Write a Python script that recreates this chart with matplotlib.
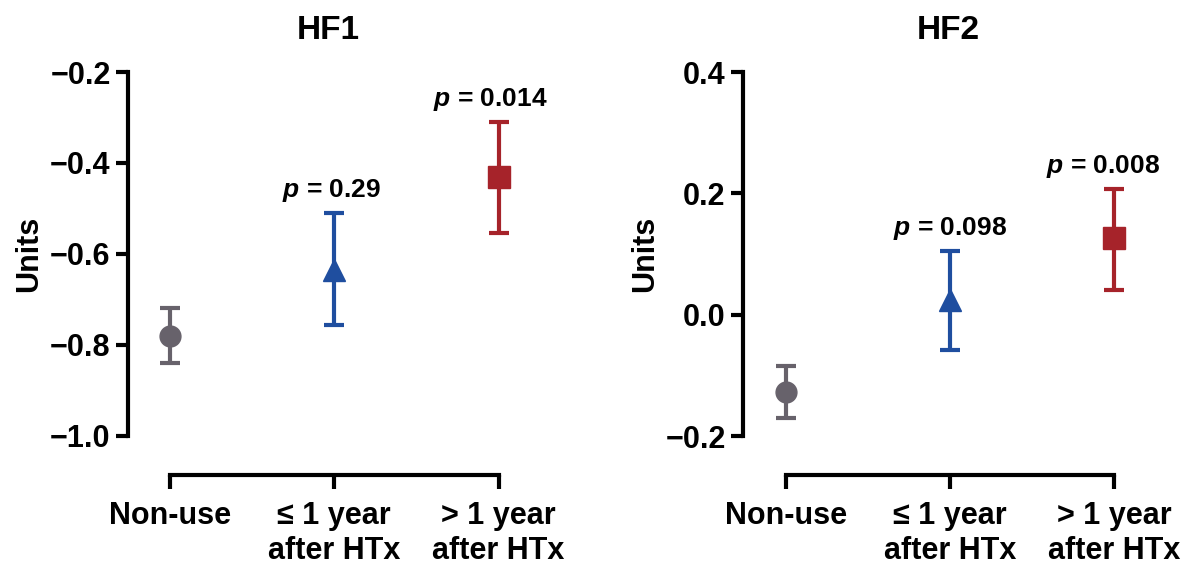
import numpy as np
import matplotlib
matplotlib.use("Agg")
import matplotlib.pyplot as plt

# Data
groups = ["Non-use", "\u2264 1 year\nafter HTx", "> 1 year\nafter HTx"]
colors = ["#67626b", "#1f4e9f", "#a6232a"]
markers = ["o", "^", "s"]

hf1_mean = [-0.780, -0.635, -0.431]
hf1_low = [-0.840, -0.756, -0.554]
hf1_high = [-0.719, -0.510, -0.310]
hf1_p = [None, "0.29", "0.014"]

hf2_mean = [-0.128, 0.025, 0.127]
hf2_low = [-0.171, -0.059, 0.041]
hf2_high = [-0.084, 0.105, 0.207]
hf2_p = [None, "0.098", "0.008"]

plt.rcParams["font.family"] = ["Liberation Sans", "DejaVu Sans"]
plt.rcParams["font.weight"] = "bold"
plt.rcParams["mathtext.fontset"] = "custom"
plt.rcParams["mathtext.it"] = "Liberation Sans:italic:bold"
plt.rcParams["mathtext.rm"] = "Liberation Sans:bold"

W, H = 1203, 571
fig = plt.figure(figsize=(W / 100, H / 100), dpi=100)
LW = 3.0


def panel(left_px, title, title_x, mean, low, high, pvals, ylim, yticks, xlim_left, p_dx):
    ax = fig.add_axes([left_px / W, 135 / H, 420 / W, 364 / H])
    x = np.arange(len(mean))
    for i in range(len(mean)):
        err = [[mean[i] - low[i]], [high[i] - mean[i]]]
        ax.errorbar(x[i], mean[i], yerr=err, fmt=markers[i], color=colors[i],
                    ms=16 if i else 15, elinewidth=LW, capsize=7.5, capthick=LW,
                    clip_on=False)
        if pvals[i]:
            ax.annotate(r"$p$ = " + pvals[i], (x[i], high[i]),
                        xytext=(p_dx[i], 6.5), textcoords="offset points",
                        ha="center", va="bottom", fontsize=19, fontweight="bold")
    ax.set_xlim(xlim_left, 2.3)
    ax.set_ylim(*ylim)
    ax.set_yticks(yticks)
    ax.set_xticks(x)
    ax.set_xticklabels(groups, multialignment="left", linespacing=1.05)
    for s in ["top", "right"]:
        ax.spines[s].set_visible(False)
    ax.spines["left"].set_linewidth(LW)
    ax.spines["bottom"].set_linewidth(LW)
    ax.spines["bottom"].set_position(("outward", 28))
    ax.spines["bottom"].set_bounds(0, 2)
    ax.tick_params(axis="y", length=8.5, width=LW, pad=4, labelsize=22)
    ax.tick_params(axis="x", length=10, width=LW, pad=9, labelsize=22)
    ax.set_ylabel("Units", fontsize=22, fontweight="bold", labelpad=4)
    ax.set_title(title, fontsize=24, fontweight="bold", pad=24, x=title_x)
    return ax


panel(128, "HF1", 0.476, hf1_mean, hf1_low, hf1_high, hf1_p, (-1.0, -0.2),
      [-1.0, -0.8, -0.6, -0.4, -0.2], -0.255, [0, -2, -6])
panel(743, "HF2", 0.488, hf2_mean, hf2_low, hf2_high, hf2_p, (-0.2, 0.4),
      [-0.2, 0.0, 0.2, 0.4], -0.262, [0, 0, -8])

fig.savefig("out.png", dpi=100)
